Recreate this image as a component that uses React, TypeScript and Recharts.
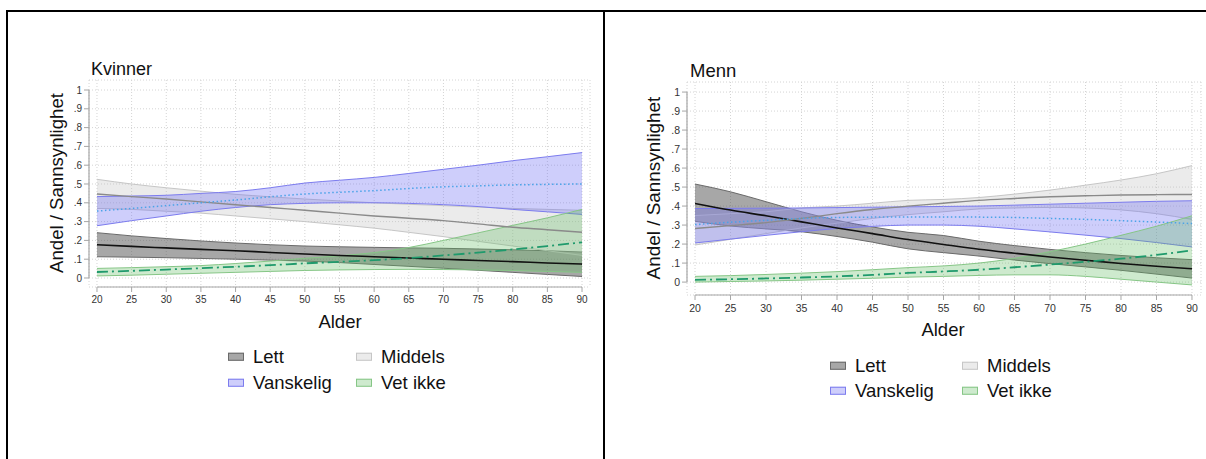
import React from 'react';
import { ComposedChart, Area, Line, XAxis, YAxis, CartesianGrid, ReferenceLine } from 'recharts';

const ages = [20, 25, 30, 35, 40, 45, 50, 55, 60, 65, 70, 75, 80, 85, 90];
const xTicks = [20, 25, 30, 35, 40, 45, 50, 55, 60, 65, 70, 75, 80, 85, 90];
const yTicks = [0, 0.1, 0.2, 0.3, 0.4, 0.5, 0.6, 0.7, 0.8, 0.9, 1];
const legendLabels = ['Lett', 'Middels', 'Vanskelig', 'Vet ikke'];

// Kvinner
const kvLettLo = [0.113, 0.111, 0.108, 0.104, 0.1, 0.095, 0.09, 0.082, 0.072, 0.062, 0.052, 0.041, 0.03, 0.019, 0.008];
const kvLettMean = [0.177, 0.168, 0.16, 0.152, 0.145, 0.136, 0.128, 0.12, 0.113, 0.106, 0.1, 0.093, 0.087, 0.08, 0.074];
const kvLettHi = [0.241, 0.224, 0.21, 0.197, 0.186, 0.177, 0.17, 0.166, 0.163, 0.16, 0.158, 0.154, 0.15, 0.145, 0.138];
const kvMidLo = [0.37, 0.365, 0.355, 0.345, 0.33, 0.315, 0.3, 0.283, 0.265, 0.243, 0.22, 0.195, 0.17, 0.145, 0.12];
const kvMidMean = [0.447, 0.433, 0.42, 0.405, 0.39, 0.375, 0.36, 0.345, 0.33, 0.318, 0.305, 0.288, 0.27, 0.257, 0.243];
const kvMidHi = [0.525, 0.5, 0.48, 0.462, 0.445, 0.432, 0.42, 0.41, 0.4, 0.392, 0.385, 0.377, 0.37, 0.365, 0.36];
const kvVanLo = [0.278, 0.305, 0.33, 0.355, 0.375, 0.39, 0.397, 0.4, 0.4, 0.397, 0.39, 0.38, 0.365, 0.352, 0.338];
const kvVanMean = [0.356, 0.37, 0.385, 0.4, 0.415, 0.432, 0.447, 0.456, 0.465, 0.476, 0.485, 0.49, 0.495, 0.498, 0.5];
const kvVanHi = [0.433, 0.436, 0.44, 0.45, 0.46, 0.48, 0.505, 0.52, 0.535, 0.556, 0.578, 0.6, 0.624, 0.645, 0.667];
const kvVetLo = [0.011, 0.015, 0.02, 0.025, 0.03, 0.035, 0.04, 0.043, 0.045, 0.046, 0.045, 0.043, 0.04, 0.035, 0.03];
const kvVetMean = [0.032, 0.038, 0.045, 0.052, 0.06, 0.068, 0.078, 0.086, 0.095, 0.106, 0.12, 0.135, 0.152, 0.17, 0.19];
const kvVetHi = [0.051, 0.055, 0.06, 0.066, 0.077, 0.09, 0.105, 0.118, 0.135, 0.162, 0.2, 0.24, 0.28, 0.32, 0.365];

// Menn
const meLettLo = [0.32, 0.295, 0.28, 0.265, 0.24, 0.21, 0.175, 0.155, 0.137, 0.116, 0.097, 0.08, 0.062, 0.042, 0.021];
const meLettMean = [0.414, 0.379, 0.349, 0.317, 0.285, 0.255, 0.224, 0.198, 0.173, 0.152, 0.132, 0.115, 0.098, 0.083, 0.07];
const meLettHi = [0.516, 0.475, 0.423, 0.37, 0.325, 0.29, 0.262, 0.245, 0.215, 0.192, 0.172, 0.155, 0.14, 0.128, 0.118];
const meMidLo = [0.195, 0.225, 0.255, 0.285, 0.31, 0.335, 0.355, 0.37, 0.385, 0.39, 0.393, 0.39, 0.38, 0.36, 0.33];
const meMidMean = [0.282, 0.297, 0.313, 0.335, 0.36, 0.382, 0.4, 0.415, 0.43, 0.44, 0.449, 0.454, 0.458, 0.46, 0.461];
const meMidHi = [0.35, 0.36, 0.37, 0.39, 0.4, 0.415, 0.43, 0.435, 0.445, 0.463, 0.484, 0.51, 0.537, 0.57, 0.613];
const meVanLo = [0.206, 0.226, 0.246, 0.265, 0.282, 0.293, 0.3, 0.3, 0.294, 0.28, 0.264, 0.247, 0.229, 0.208, 0.185];
const meVanMean = [0.303, 0.315, 0.325, 0.335, 0.34, 0.342, 0.343, 0.343, 0.342, 0.34, 0.335, 0.33, 0.323, 0.316, 0.308];
const meVanHi = [0.387, 0.388, 0.389, 0.39, 0.392, 0.394, 0.396, 0.398, 0.4, 0.405, 0.41, 0.415, 0.42, 0.425, 0.428];
const meVetLo = [0.0, 0.003, 0.006, 0.01, 0.015, 0.02, 0.026, 0.03, 0.035, 0.038, 0.038, 0.03, 0.015, 0.0, -0.015];
const meVetMean = [0.012, 0.015, 0.019, 0.024, 0.03, 0.038, 0.048, 0.056, 0.065, 0.078, 0.092, 0.107, 0.123, 0.143, 0.167];
const meVetHi = [0.03, 0.034, 0.04, 0.047, 0.055, 0.065, 0.076, 0.085, 0.1, 0.125, 0.16, 0.2, 0.246, 0.294, 0.349];

type Arr = number[];
function buildRows(
  lLo: Arr, lM: Arr, lHi: Arr, mLo: Arr, mM: Arr, mHi: Arr,
  vLo: Arr, vM: Arr, vHi: Arr, tLo: Arr, tM: Arr, tHi: Arr
) {
  return ages.map((age, i) => ({
    age,
    lett: [lLo[i], lHi[i]], lettM: lM[i],
    mid: [mLo[i], mHi[i]], midM: mM[i],
    van: [vLo[i], vHi[i]], vanM: vM[i],
    vet: [tLo[i], tHi[i]], vetM: tM[i],
  }));
}

const kvRows = buildRows(kvLettLo, kvLettMean, kvLettHi, kvMidLo, kvMidMean, kvMidHi, kvVanLo, kvVanMean, kvVanHi, kvVetLo, kvVetMean, kvVetHi);
const meRows = buildRows(meLettLo, meLettMean, meLettHi, meMidLo, meMidMean, meMidHi, meVanLo, meVanMean, meVanHi, meVetLo, meVetMean, meVetHi);

const FONT = '"Liberation Sans", Arial, Helvetica, sans-serif';

const fmtY = (v: number) => (v === 0 ? '0' : v === 1 ? '1' : '.' + Math.round(v * 10));

type PanelProps = {
  rows: any[];
  left: number; top: number; width: number; height: number;
  margin: { top: number; right: number; bottom: number; left: number };
  xDomain: [number, number]; yDomain: [number, number];
  tickFont: number; xTickMargin: number;
};

function Panel(p: PanelProps) {
  const axisColor = '#a6a6a6';
  return (
    <div style={{ position: 'absolute', left: p.left, top: p.top }}>
      <ComposedChart width={p.width} height={p.height} data={p.rows} margin={p.margin}>
        <CartesianGrid stroke="#d4d4d4" strokeDasharray="1 2" />
        <XAxis
          dataKey="age" type="number" domain={p.xDomain} ticks={xTicks} allowDataOverflow
          axisLine={false} tickLine={{ stroke: axisColor }} tickSize={5} tickMargin={p.xTickMargin}
          tick={{ fill: '#333', fontSize: p.tickFont, fontFamily: FONT }} height={30} interval={0}
        />
        <YAxis
          type="number" domain={p.yDomain} ticks={yTicks} allowDataOverflow
          axisLine={false} tickLine={{ stroke: axisColor }} tickSize={5} tickMargin={2}
          tick={{ fill: '#333', fontSize: p.tickFont, fontFamily: FONT }} width={40} interval={0}
          tickFormatter={fmtY}
        />
        <ReferenceLine segment={[{ x: 20, y: p.yDomain[0] }, { x: 90, y: p.yDomain[0] }]} stroke={axisColor} strokeWidth={1.2} ifOverflow="visible" />
        <ReferenceLine segment={[{ x: p.xDomain[0], y: 0 }, { x: p.xDomain[0], y: 1 }]} stroke={axisColor} strokeWidth={1.2} ifOverflow="visible" />
        <Area dataKey="lett" type="monotone" fill="#505050" fillOpacity={0.5} stroke="#6a6a6a" strokeWidth={1} isAnimationActive={false} />
        <Area dataKey="mid" type="monotone" fill="#bdbdbd" fillOpacity={0.3} stroke="#c6c6c6" strokeWidth={1} isAnimationActive={false} />
        <Area dataKey="van" type="monotone" fill="#6a6af2" fillOpacity={0.33} stroke="#7c7cee" strokeWidth={1} isAnimationActive={false} />
        <Area dataKey="vet" type="monotone" fill="#5cb85c" fillOpacity={0.3} stroke="#86c686" strokeWidth={1} isAnimationActive={false} />
        <Line dataKey="lettM" type="monotone" stroke="#111" strokeWidth={1.6} dot={false} isAnimationActive={false} />
        <Line dataKey="midM" type="monotone" stroke="#8a8a8a" strokeWidth={1.4} dot={false} isAnimationActive={false} />
        <Line dataKey="vanM" type="monotone" stroke="#4aa3e8" strokeWidth={1.5} strokeDasharray="1.5 2.5" dot={false} isAnimationActive={false} />
        <Line dataKey="vetM" type="monotone" stroke="#1f9a6c" strokeWidth={1.8} strokeDasharray="11 4 2 4" dot={false} isAnimationActive={false} />
      </ComposedChart>
    </div>
  );
}

const swatchStyles = [
  { background: 'rgba(80,80,80,0.5)', border: '1px solid #6a6a6a' },
  { background: 'rgba(189,189,189,0.3)', border: '1px solid #c6c6c6' },
  { background: 'rgba(106,106,242,0.33)', border: '1px solid #7c7cee' },
  { background: 'rgba(92,184,92,0.3)', border: '1px solid #86c686' },
];

function Legend(props: { x1: number; x2: number; y1: number; y2: number; gap: number; font: number }) {
  const items = [
    { i: 0, x: props.x1, y: props.y1 },
    { i: 1, x: props.x2, y: props.y1 },
    { i: 2, x: props.x1, y: props.y2 },
    { i: 3, x: props.x2, y: props.y2 },
  ];
  return (
    <>
      {items.map((it) => (
        <div key={it.i} style={{ position: 'absolute', left: it.x, top: it.y, transform: 'translateY(-50%)', display: 'flex', alignItems: 'center', whiteSpace: 'nowrap' }}>
          <div style={{ width: 14, height: 6, ...swatchStyles[it.i] }} />
          <span style={{ marginLeft: props.gap, fontSize: props.font, lineHeight: 1, color: '#111' }}>{legendLabels[it.i]}</span>
        </div>
      ))}
    </>
  );
}

function Txt(props: { x: number; y: number; size: number; text: string; center?: boolean; rotate?: boolean }) {
  const tr = props.rotate
    ? 'translate(-50%,-50%) rotate(-90deg)'
    : props.center ? 'translate(-50%,-50%)' : 'translateY(-50%)';
  return (
    <div style={{ position: 'absolute', left: props.x, top: props.y, transform: tr, fontSize: props.size, lineHeight: 1, whiteSpace: 'nowrap', color: '#111' }}>
      {props.text}
    </div>
  );
}

export default function App() {
  return (
    <div style={{ position: 'absolute', left: 0, top: 0, width: 1206, height: 459, background: '#fff', fontFamily: FONT, overflow: 'hidden' }}>
      {/* table borders */}
      <div style={{ position: 'absolute', left: 6, top: 10, width: 1200, height: 2, background: '#000' }} />
      <div style={{ position: 'absolute', left: 6, top: 10, width: 2, height: 449, background: '#000' }} />
      <div style={{ position: 'absolute', left: 603, top: 10, width: 2, height: 449, background: '#000' }} />

      <Panel rows={kvRows} left={0} top={0} width={600} height={320}
        margin={{ top: 80, right: 10, bottom: 3, left: 49 }}
        xDomain={[18.85, 91.15]} yDomain={[-0.0479, 1.0532]} tickFont={10} xTickMargin={4} />
      <Panel rows={meRows} left={600} top={0} width={606} height={340}
        margin={{ top: 82, right: 5, bottom: 15, left: 47 }}
        xDomain={[18.87, 91.27]} yDomain={[-0.068, 1.053]} tickFont={10.5} xTickMargin={5} />

      <Txt x={91} y={69} size={18} text="Kvinner" />
      <Txt x={57} y={183} size={18.6} text="Andel / Sannsynlighet" rotate />
      <Txt x={340} y={322} size={18.5} text="Alder" center />
      <Legend x1={228} x2={356} y1={357} y2={383} gap={9} font={18.5} />

      <Txt x={690} y={71} size={18.5} text="Menn" />
      <Txt x={654} y={188} size={18.9} text="Andel / Sannsynlighet" rotate />
      <Txt x={943} y={330} size={18.5} text="Alder" center />
      <Legend x1={830} x2={962} y1={366} y2={391} gap={9} font={18.5} />
    </div>
  );
}
